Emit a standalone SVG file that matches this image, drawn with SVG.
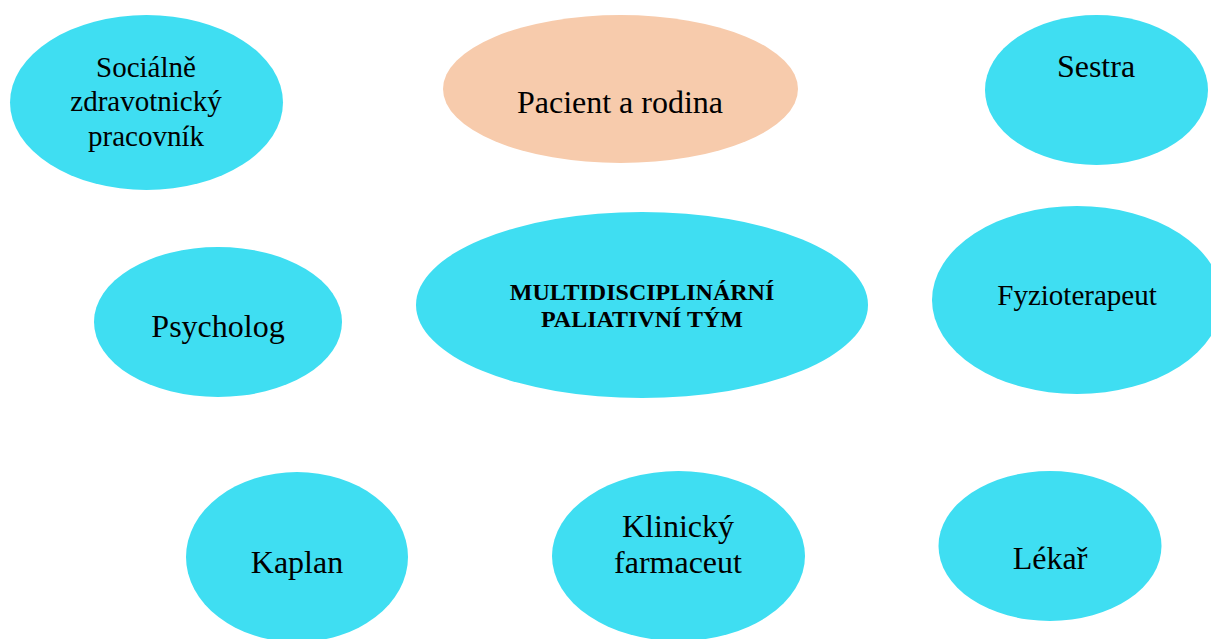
<svg xmlns="http://www.w3.org/2000/svg" width="1211" height="639" viewBox="0 0 1211 639">
<style>
.n{fill:#3FDEF2}
.p{fill:#F7CBAC}
text{font-family:"Liberation Serif","Times New Roman",serif;font-size:32px;fill:#000;text-anchor:middle}
.s{font-size:29px}
.b{font-weight:bold;font-size:24px}
</style>
<rect width="1211" height="639" fill="#fff"/>
<g id="connectors"></g>
<g id="socialne"><ellipse class="n" cx="146.5" cy="102.5" rx="136.5" ry="87.5"/><text class="s" x="146" y="77">Sociálně</text><text class="s" x="146" y="111">zdravotnický</text><text class="s" x="146" y="146">pracovník</text></g>
<g id="pacient"><ellipse class="p" cx="620.5" cy="89" rx="177.5" ry="74"/><text x="620" y="113">Pacient a rodina</text></g>
<g id="sestra"><ellipse class="n" cx="1096.5" cy="90" rx="111.5" ry="75"/><text x="1096" y="77">Sestra</text></g>
<g id="psycholog"><ellipse class="n" cx="218" cy="322" rx="124" ry="75"/><text x="218" y="337">Psycholog</text></g>
<g id="tym"><ellipse class="n" cx="642" cy="305" rx="226" ry="93"/><text class="b" x="642" y="300">MULTIDISCIPLINÁRNÍ</text><text class="b" x="642" y="327">PALIATIVNÍ TÝM</text></g>
<g id="fyzioterapeut"><ellipse class="n" cx="1077" cy="300" rx="145" ry="94"/><text class="s" x="1077" y="305">Fyzioterapeut</text></g>
<g id="kaplan"><ellipse class="n" cx="297" cy="557" rx="111" ry="85"/><text x="297" y="573">Kaplan</text></g>
<g id="farmaceut"><ellipse class="n" cx="678.5" cy="556" rx="126.5" ry="85"/><text x="678" y="537">Klinický</text><text x="678" y="573">farmaceut</text></g>
<g id="lekar"><ellipse class="n" cx="1050" cy="546" rx="111.5" ry="75"/><text x="1050" y="569">Lékař</text></g>
</svg>
